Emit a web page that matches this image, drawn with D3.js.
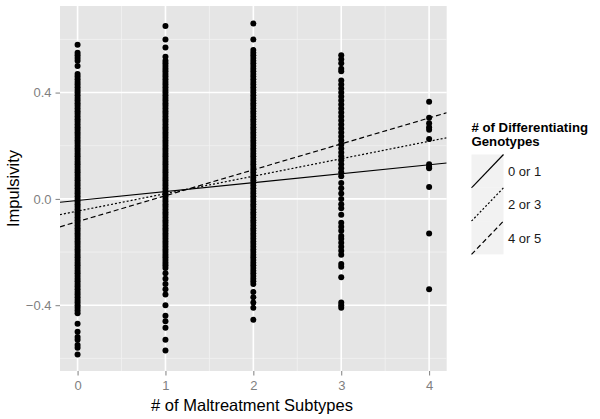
<!DOCTYPE html>
<html><head><meta charset="utf-8">
<script src="https://cdn.jsdelivr.net/npm/d3@7"></script>
<style>body{margin:0;background:#fff}svg{display:block}</style>
</head><body>
<script>
// ---- data ----
const col0 = [0.58,0.55,0.54,0.53,0.52,0.50,0.47,0.46,0.45,0.44,0.43,0.42,0.41,0.40,0.39,0.38,0.37,0.36,0.35,0.34,0.33,0.32,0.31,0.30,0.29,0.28,0.27,0.26,0.25,0.24,0.23,0.22,0.21,0.20,0.19,0.18,0.17,0.16,0.15,0.14,0.13,0.12,0.11,0.10,0.09,0.08,0.07,0.06,0.05,0.04,0.03,0.02,0.01,0.00,-0.01,-0.02,-0.03,-0.04,-0.05,-0.06,-0.07,-0.08,-0.09,-0.10,-0.11,-0.12,-0.13,-0.14,-0.15,-0.16,-0.17,-0.18,-0.19,-0.20,-0.21,-0.22,-0.23,-0.24,-0.25,-0.26,-0.27,-0.28,-0.29,-0.30,-0.31,-0.32,-0.33,-0.34,-0.35,-0.36,-0.37,-0.38,-0.39,-0.40,-0.41,-0.42,-0.43,-0.47,-0.50,-0.52,-0.53,-0.55,-0.56,-0.585];
const col1 = [0.65,0.60,0.57,0.535,0.52,0.51,0.50,0.49,0.48,0.47,0.46,0.45,0.44,0.43,0.42,0.41,0.40,0.39,0.38,0.37,0.36,0.35,0.34,0.33,0.32,0.31,0.30,0.29,0.28,0.27,0.26,0.25,0.24,0.23,0.22,0.21,0.20,0.19,0.18,0.17,0.16,0.15,0.14,0.13,0.12,0.11,0.10,0.09,0.08,0.07,0.06,0.05,0.04,0.03,0.02,0.01,0.00,-0.01,-0.02,-0.03,-0.04,-0.05,-0.06,-0.07,-0.08,-0.09,-0.10,-0.11,-0.12,-0.13,-0.14,-0.15,-0.16,-0.17,-0.18,-0.19,-0.20,-0.21,-0.22,-0.23,-0.24,-0.25,-0.26,-0.28,-0.30,-0.32,-0.34,-0.36,-0.40,-0.44,-0.46,-0.485,-0.53,-0.57];
const col2 = [0.66,0.60,0.56,0.55,0.54,0.53,0.52,0.51,0.50,0.49,0.48,0.47,0.46,0.45,0.44,0.43,0.42,0.41,0.40,0.39,0.38,0.37,0.36,0.35,0.34,0.33,0.32,0.31,0.30,0.29,0.28,0.27,0.26,0.25,0.24,0.23,0.22,0.21,0.20,0.19,0.18,0.17,0.16,0.15,0.14,0.13,0.12,0.11,0.10,0.09,0.08,0.07,0.06,0.05,0.04,0.03,0.02,0.01,0.00,-0.01,-0.02,-0.03,-0.04,-0.05,-0.06,-0.07,-0.08,-0.09,-0.10,-0.11,-0.12,-0.13,-0.14,-0.15,-0.16,-0.17,-0.18,-0.19,-0.20,-0.21,-0.22,-0.23,-0.24,-0.25,-0.26,-0.27,-0.28,-0.29,-0.30,-0.31,-0.32,-0.35,-0.37,-0.39,-0.41,-0.455];
const col3 = [0.54,0.525,0.51,0.49,0.48,0.445,0.43,0.415,0.40,0.385,0.37,0.355,0.34,0.325,0.31,0.295,0.28,0.265,0.25,0.235,0.22,0.205,0.19,0.175,0.16,0.145,0.13,0.115,0.10,0.085,0.06,0.04,0.02,0.00,-0.02,-0.035,-0.06,-0.09,-0.105,-0.12,-0.14,-0.15,-0.165,-0.18,-0.195,-0.21,-0.245,-0.255,-0.295,-0.39,-0.40,-0.41];
const col4 = [0.365,0.305,0.285,0.27,0.26,0.225,0.13,0.12,0.115,0.045,-0.13,-0.34];
const columns = [col0, col1, col2, col3, col4];

const groups = ["0 or 1", "2 or 3", "4 or 5"];
const intercepts = [-0.006, -0.046, -0.0855];
const slopes = [0.0336, 0.0657, 0.0975];

const xTicks = [0, 1, 2, 3, 4];
const xMinor = [0.5, 1.5, 2.5, 3.5];
const yTicks = [-0.4, 0.0, 0.4];
const yMinor = [-0.6, -0.2, 0.2, 0.6];

// ---- layout ----
const W = 600, H = 419;
const panel = {l: 60, r: 446.7, t: 6, b: 371};
const dashes = [null, "2,2", "5,3"];
const FONT = "'Liberation Sans', Arial, sans-serif";

const svg = d3.select("body").append("svg").attr("width", W).attr("height", H)
  .style("font-family", FONT);

const x = d3.scaleLinear().domain([-0.2, 4.2]).range([panel.l, panel.r]);
const y = d3.scaleLinear().domain([-0.6475, 0.7257]).range([panel.b, panel.t]);

svg.append("rect").attr("x", panel.l).attr("y", panel.t)
  .attr("width", panel.r - panel.l).attr("height", panel.b - panel.t).attr("fill", "#e5e5e5");

const grid = svg.append("g");
grid.selectAll(".ymin").data(yMinor).join("line")
  .attr("x1", panel.l).attr("x2", panel.r).attr("y1", d => y(d)).attr("y2", d => y(d))
  .attr("stroke", "#f2f2f2").attr("stroke-width", 0.8);
grid.selectAll(".xmin").data(xMinor).join("line")
  .attr("y1", panel.t).attr("y2", panel.b).attr("x1", d => x(d)).attr("x2", d => x(d))
  .attr("stroke", "#f2f2f2").attr("stroke-width", 0.8);
grid.selectAll(".ymaj").data(yTicks).join("line")
  .attr("x1", panel.l).attr("x2", panel.r).attr("y1", d => y(d)).attr("y2", d => y(d))
  .attr("stroke", "#ffffff").attr("stroke-width", 1.6);
grid.selectAll(".xmaj").data(xTicks).join("line")
  .attr("y1", panel.t).attr("y2", panel.b).attr("x1", d => x(d)).attr("x2", d => x(d))
  .attr("stroke", "#ffffff").attr("stroke-width", 1.6);

// points
const pts = [];
columns.forEach((c, i) => c.forEach(v => pts.push({x: i, y: v})));
svg.append("g").selectAll("circle").data(pts).join("circle")
  .attr("cx", d => x(d.x)).attr("cy", d => y(d.y)).attr("r", 3).attr("fill", "#000");

// regression lines
svg.append("clipPath").attr("id", "pc").append("rect")
  .attr("x", panel.l).attr("y", panel.t).attr("width", panel.r - panel.l).attr("height", panel.b - panel.t);
const xd = x.domain();
svg.append("g").attr("clip-path", "url(#pc)").selectAll("line").data(groups).join("line")
  .attr("x1", x(xd[0])).attr("x2", x(xd[1]))
  .attr("y1", (d, i) => y(intercepts[i] + slopes[i] * xd[0]))
  .attr("y2", (d, i) => y(intercepts[i] + slopes[i] * xd[1]))
  .attr("stroke", "#000").attr("stroke-width", 1.2)
  .attr("stroke-dasharray", (d, i) => dashes[i]);

// axes
const xAxis = svg.append("g").attr("transform", `translate(0,${panel.b})`)
  .call(d3.axisBottom(x).tickValues(xTicks).tickFormat(d3.format("d")).tickSize(4.5).tickPadding(5));
const yAxis = svg.append("g").attr("transform", `translate(${panel.l},0)`)
  .call(d3.axisLeft(y).tickValues(yTicks).tickFormat(d3.format(".1f")).tickSize(4.5).tickPadding(4));
[xAxis, yAxis].forEach(a => {
  a.select(".domain").remove();
  a.selectAll(".tick line").attr("stroke", "#7f7f7f");
  a.selectAll(".tick text").attr("fill", "#7f7f7f").style("font-size", "13px")
    .style("font-family", FONT);
});

svg.append("text").attr("x", 252).attr("y", 411).attr("text-anchor", "middle")
  .style("font-size", "16.5px").text("# of Maltreatment Subtypes");
svg.append("text").attr("transform", `translate(19,${(panel.t + panel.b) / 2}) rotate(-90)`)
  .attr("text-anchor", "middle").style("font-size", "16.5px").text("Impulsivity");

// legend
const lg = svg.append("g").attr("transform", "translate(471.5,0)");
lg.append("text").attr("x", 0).attr("y", 131.5).style("font-size", "13.2px").style("font-weight", "bold")
  .text("# of Differentiating");
lg.append("text").attr("x", 0).attr("y", 146).style("font-size", "13.2px").style("font-weight", "bold")
  .text("Genotypes");
const keyW = 32, keyH = 33.3, keyTop = 154.5;
const keys = lg.selectAll(".key").data(groups).join("g")
  .attr("transform", (d, i) => `translate(0,${keyTop + i * keyH})`);
keys.append("rect").attr("width", keyW).attr("height", keyH).attr("fill", "#f2f2f2");
keys.append("line").attr("x1", 0).attr("y1", keyH).attr("x2", keyW).attr("y2", 0)
  .attr("stroke", "#000").attr("stroke-width", 1.2).attr("stroke-dasharray", (d, i) => dashes[i]);
keys.append("text").attr("x", keyW + 4.5).attr("y", keyH / 2 + 5).style("font-size", "13px")
  .attr("fill", "#1a1a1a").text(d => d);
</script>
</body></html>
